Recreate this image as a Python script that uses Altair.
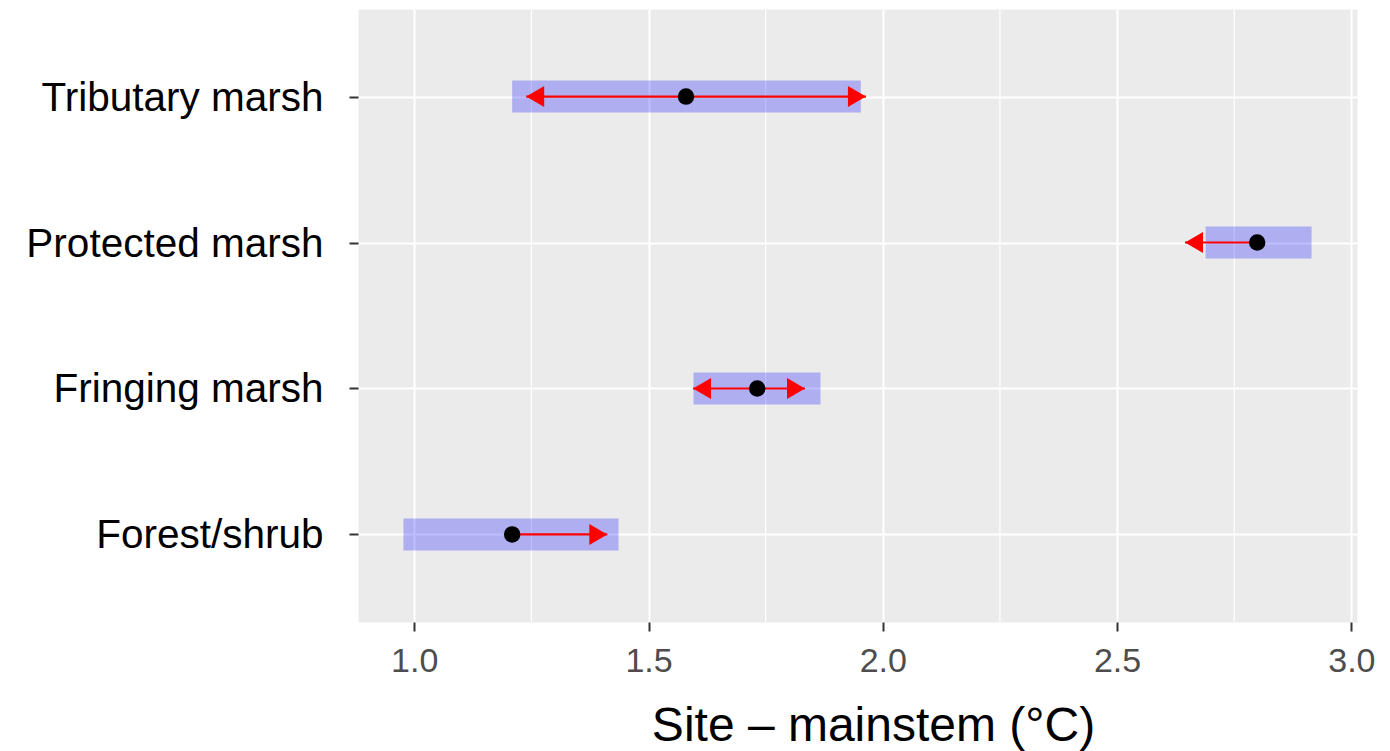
import math
import altair as alt
import pandas as pd

# ---- data ----
categories = ["Tributary marsh", "Protected marsh", "Fringing marsh", "Forest/shrub"]
box_lo = [1.209, 2.689, 1.596, 0.977]
box_hi = [1.953, 2.915, 1.867, 1.436]
point_val = [1.580, 2.799, 1.732, 1.209]
seg_lo = [1.239, 2.645, 1.595, 1.209]
seg_hi = [1.964, 2.799, 1.834, 1.412]
left_head = [1.239, 2.645, 1.595, math.nan]
right_head = [1.964, math.nan, 1.834, 1.412]
x_ticks = [1.0, 1.5, 2.0, 2.5, 3.0]
minor_breaks = [1.25, 1.75, 2.25, 2.75]
x_domain = [0.880, 3.012]

df = pd.DataFrame({
    "cat": categories,
    "lo": box_lo,
    "hi": box_hi,
    "pt": point_val,
    "slo": seg_lo,
    "shi": seg_hi,
})
lh = pd.DataFrame({"cat": categories, "v": left_head}).dropna()
rh = pd.DataFrame({"cat": categories, "v": right_head}).dropna()
minor_df = pd.DataFrame({"v": minor_breaks})

FONT = "Liberation Sans"

x_scale = alt.Scale(domain=x_domain, nice=False, zero=False)
y_scale = alt.Scale(type="point", domain=categories, padding=0.6)

x_axis = alt.Axis(
    values=x_ticks, format=".1f", title="Site – mainstem (°C)",
    grid=True, gridColor="white", gridWidth=2, domain=False,
    tickColor="#333333", tickSize=9, tickWidth=2,
    labelFont=FONT, labelFontSize=34, labelColor="#4D4D4D", labelPadding=13,
    labelFlush=False,
    titleFont=FONT, titleFontSize=48, titleFontWeight="normal", titleColor="black",
    titleX=515, titleY=118, titleBaseline="alphabetic", titleAlign="center",
)
y_axis = alt.Axis(
    title=None, grid=True, gridColor="white", gridWidth=2, domain=False,
    tickColor="#333333", tickSize=9, tickWidth=2,
    labelFont=FONT, labelFontSize=40.5, labelColor="black", labelPadding=26,
    labelLimit=500, labelOffset=1.5,
)


def X(field):
    return alt.X(field, type="quantitative", scale=x_scale, axis=x_axis)


def Y():
    return alt.Y("cat", type="nominal", scale=y_scale, axis=y_axis, sort=categories)


minor = alt.Chart(minor_df).mark_rule(color="white", strokeWidth=1.2).encode(x=X("v"))

boxes = alt.Chart(df).mark_bar(size=32, color="#0000FF", opacity=0.26).encode(
    x=X("lo"), x2="hi", y=Y()
)

segs = alt.Chart(df).mark_rule(color="#FF0000", strokeWidth=2.2).encode(
    x=X("slo"), x2="shi", y=Y()
)

left_heads = alt.Chart(lh).mark_point(
    shape="M 0 0 L 1.714 -1 L 1.714 1 Z", filled=True, color="#FF0000",
    size=441, opacity=1, strokeWidth=0,
).encode(x=X("v"), y=Y())

right_heads = alt.Chart(rh).mark_point(
    shape="M 0 0 L -1.714 -1 L -1.714 1 Z", filled=True, color="#FF0000",
    size=441, opacity=1, strokeWidth=0,
).encode(x=X("v"), y=Y())

points = alt.Chart(df).mark_circle(color="black", size=270, opacity=1).encode(
    x=X("pt"), y=Y()
)

chart = alt.layer(minor, boxes, segs, left_heads, right_heads, points).properties(
    width=999,
    height=613,
    autosize=alt.AutoSizeParams(type="none"),
    padding={"left": 358, "top": 9, "right": 33, "bottom": 129},
    background="white",
).configure_view(fill="#EBEBEB", stroke="transparent")

chart.save("out.html", embed_options={"renderer": "svg", "actions": False})
